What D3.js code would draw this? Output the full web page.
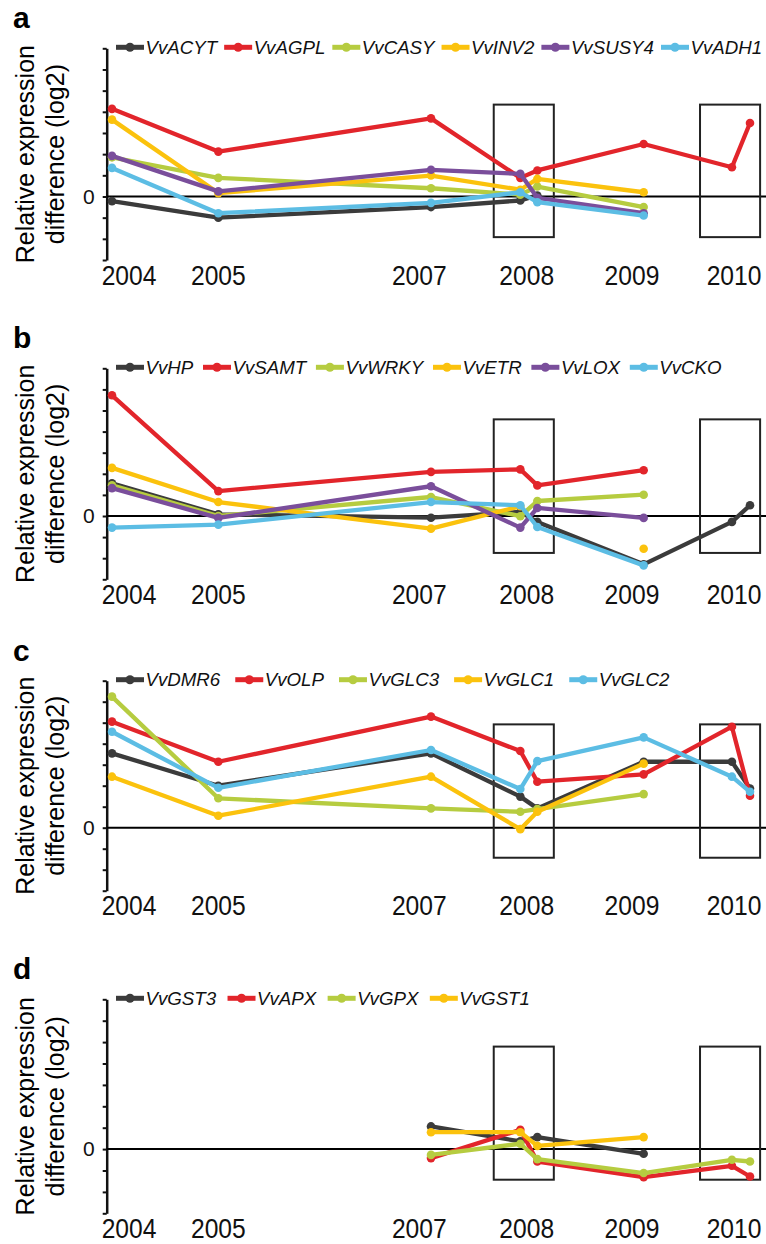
<!DOCTYPE html>
<html>
<head>
<meta charset="utf-8">
<script src="https://cdn.jsdelivr.net/npm/d3@7"></script>
<style>
  body { margin: 0; background: #fff; }
  svg { display: block; }
  text { font-family: "Liberation Sans", Arial, sans-serif; }
</style>
</head>
<body>
<svg id="chart" width="766" height="1244"></svg>
<script>
// sampling dates (two samples inside the boxed 2008 and 2010 seasons)
const sampleYears = [2004, 2005, 2007, 2007.84, 2008, 2009, 2009.83, 2010];
const tickLabels = ['2004', '2005', '2007', '2008', '2009', '2010'];
// where each year label sits along the time axis
const tickLabelAt = [2004.16, 2005.0, 2006.89, 2007.9, 2008.89, 2009.85];

const colors = ['#3b3b3b', '#e2252b', '#b6cc40', '#fbc20d', '#7a4e9b', '#5cbde4'];

// panel a
const genesA = ['VvACYT', 'VvAGPL', 'VvCASY', 'VvINV2', 'VvSUSY4', 'VvADH1'];
const valuesA = [
  [-0.22, -1.0, -0.5, -0.19, 0.05, null, null, null],
  [4.14, 2.12, 3.69, 0.88, 1.23, 2.48, 1.38, 3.47],
  [1.85, 0.88, 0.39, 0.09, 0.47, -0.5, null, null],
  [3.63, 0.16, 0.99, 0.32, 0.83, 0.2, null, null],
  [1.92, 0.24, 1.26, 1.07, -0.06, -0.79, null, null],
  [1.35, -0.79, -0.3, 0.2, -0.27, -0.9, null, null],
];
// panel b
const genesB = ['VvHP', 'VvSAMT', 'VvWRKY', 'VvETR', 'VvLOX', 'VvCKO'];
const valuesB = [
  [1.55, 0.08, -0.08, 0.19, -0.28, -2.29, -0.28, 0.51],
  [5.72, 1.18, 2.09, 2.21, 1.45, 2.17, null, null],
  [1.45, 0.0, 0.9, -0.01, 0.71, 1.01, null, null],
  [2.28, 0.66, -0.6, 0.46, null, -1.55, null, null],
  [1.32, -0.09, 1.41, -0.55, 0.38, -0.09, null, null],
  [-0.55, -0.41, 0.66, 0.51, -0.52, -2.34, null, null],
];
// panel c
const genesC = ['VvDMR6', 'VvOLP', 'VvGLC3', 'VvGLC1', 'VvGLC2'];
const valuesC = [
  [3.54, 2.0, 3.54, 1.48, 0.92, 3.14, 3.14, 1.87],
  [5.05, 3.14, 5.29, 3.65, 2.19, 2.54, 4.81, 1.52],
  [6.24, 1.4, 0.92, 0.76, 0.89, 1.6, null, null],
  [2.43, 0.57, 2.43, -0.07, 0.76, 3.05, null, null],
  [4.57, 1.9, 3.7, 1.84, 3.17, 4.3, 2.43, 1.71],
];
// panel d
const genesD = ['VvGST3', 'VvAPX', 'VvGPX', 'VvGST1'];
const valuesD = [
  [null, null, 1.06, 0.36, 0.56, -0.22, null, null],
  [null, null, -0.42, 0.9, -0.58, -1.31, -0.78, -1.28],
  [null, null, -0.27, 0.25, -0.47, -1.12, -0.5, -0.58],
  [null, null, 0.79, 0.79, 0.15, 0.56, null, null],
];

// boxes around the 2008 and 2010 seasons: [x0, x1] in years, [top, bottom] per panel
const boxYears = [[2007.59, 2008.155], [2009.53, 2010.095]];
const boxValues = [[4.34, -1.92], [4.58, -1.75], [4.92, -1.43], [4.79, -1.43]];

const panels = [
  { tag: 'a', genes: genesA, values: valuesA, cidx: [0, 1, 2, 3, 4, 5], top: 48.3, bottom: 260, gap: 7 },
  { tag: 'b', genes: genesB, values: valuesB, cidx: [0, 1, 2, 3, 4, 5], top: 368.3, bottom: 579.3, gap: 9.7 },
  { tag: 'c', genes: genesC, values: valuesC, cidx: [0, 1, 2, 3, 5], top: 680.7, bottom: 890.7, gap: 15 },
  { tag: 'd', genes: genesD, values: valuesD, cidx: [0, 1, 2, 3], top: 999.3, bottom: 1213.3, gap: 11.4 },
];

const svg = d3.select('#chart');
const x = d3.scaleLinear().domain([2004, 2010]).range([112, 750]);
const axisX = 106.7;
const rightEnd = x(2010.17);

panels.forEach((p, pi) => {
  const g = svg.append('g');
  const y = d3.scaleLinear().domain([-3, 7]).range([p.bottom, p.top]);

  // panel letter
  g.append('text')
    .attr('x', 13)
    .attr('y', y(7) - 20)
    .attr('font-size', 30)
    .attr('font-weight', 'bold')
    .text(p.tag);

  // y title
  const cy = (p.top + p.bottom) / 2;
  g.append('text')
    .attr('transform', `translate(34,${cy}) rotate(-90)`)
    .attr('text-anchor', 'middle')
    .attr('font-size', 25)
    .text('Relative expression');
  g.append('text')
    .attr('transform', `translate(64,${cy}) rotate(-90)`)
    .attr('text-anchor', 'middle')
    .attr('font-size', 25)
    .text('difference (log2)');

  // y axis
  const ax = g.append('g')
    .attr('transform', `translate(${axisX},0)`)
    .call(d3.axisLeft(y).tickValues(d3.range(-3, 8)).tickSize(4).tickSizeOuter(0)
      .tickPadding(8).tickFormat((d) => (d === 0 ? '0' : '')));
  ax.select('.domain').attr('stroke', '#111').attr('stroke-width', 2.5);
  ax.selectAll('.tick line').attr('stroke', '#111').attr('stroke-width', 2);
  ax.selectAll('.tick text').attr('font-size', 21).attr('fill', '#111')
    .attr('font-family', '"Liberation Sans", Arial, sans-serif');

  // zero line
  g.append('line')
    .attr('x1', axisX).attr('x2', rightEnd)
    .attr('y1', y(0)).attr('y2', y(0))
    .attr('stroke', '#000').attr('stroke-width', 2);

  // year labels
  g.selectAll('.yr')
    .data(tickLabels)
    .join('text')
    .attr('class', 'yr')
    .attr('transform', (d, i) => `translate(${x(tickLabelAt[i])},${p.bottom + 24.5}) scale(0.88,1)`)
    .attr('text-anchor', 'middle')
    .attr('font-size', 28)
    .attr('fill', '#111')
    .text((d) => d);

  // boxes
  g.selectAll('.box')
    .data(boxYears)
    .join('rect')
    .attr('class', 'box')
    .attr('x', (d) => x(d[0]))
    .attr('width', (d) => x(d[1]) - x(d[0]))
    .attr('y', y(boxValues[pi][0]))
    .attr('height', y(boxValues[pi][1]) - y(boxValues[pi][0]))
    .attr('fill', 'none')
    .attr('stroke', '#222')
    .attr('stroke-width', 2);

  // series
  const line = d3.line()
    .defined((d) => d.v != null)
    .x((d) => x(d.t))
    .y((d) => y(d.v));

  p.values.forEach((vals, si) => {
    const col = colors[p.cidx[si]];
    const pts = vals.map((v, i) => ({ t: sampleYears[i], v }));
    g.append('path')
      .datum(pts)
      .attr('d', line)
      .attr('fill', 'none')
      .attr('stroke', col)
      .attr('stroke-width', 4.3)
      .attr('stroke-linejoin', 'round')
      .attr('stroke-linecap', 'round');
    g.selectAll(null)
      .data(pts.filter((d) => d.v != null))
      .join('circle')
      .attr('cx', (d) => x(d.t))
      .attr('cy', (d) => y(d.v))
      .attr('r', 4.3)
      .attr('fill', col);
  });

  // legend
  const leg = g.append('g').attr('transform', `translate(116,${y(7) - 1})`);
  let lx = 0;
  p.genes.forEach((name, si) => {
    const col = colors[p.cidx[si]];
    const item = leg.append('g').attr('transform', `translate(${lx},0)`);
    item.append('line')
      .attr('x1', 0).attr('x2', 28)
      .attr('stroke', col).attr('stroke-width', 5);
    item.append('circle').attr('cx', 14).attr('r', 4.5).attr('fill', col);
    const t = item.append('text')
      .attr('x', 29.5)
      .attr('dy', '0.36em')
      .attr('font-size', 18.7)
      .attr('font-style', 'italic')
      .attr('fill', '#111')
      .text(name);
    lx += 29.5 + t.node().getComputedTextLength() + p.gap;
  });
});
</script>
</body>
</html>
